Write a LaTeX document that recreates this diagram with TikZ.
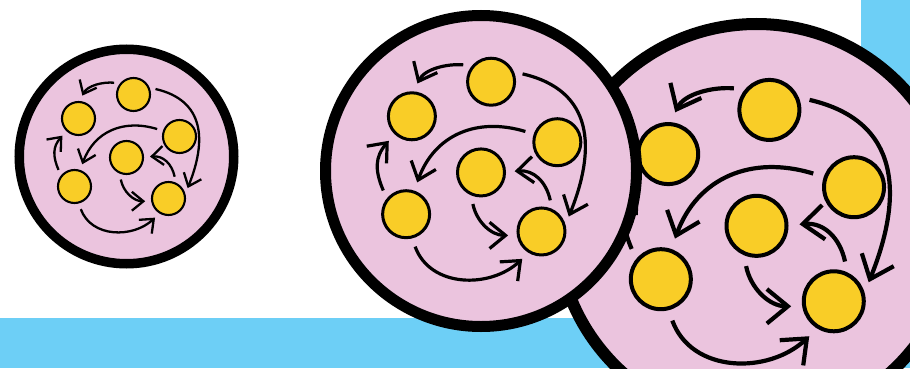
\documentclass[tikz,border=0pt]{standalone}
\usetikzlibrary{arrows.meta}
\definecolor{rose}{HTML}{EBC4DE}
\definecolor{jaune}{HTML}{F9CD27}
\definecolor{bleu}{HTML}{6DCFF6}

\begin{document}
\begin{tikzpicture}[
        x=1pt, y=1pt,
        cell/.style={circle, draw=black, fill=rose, inner sep=0pt},
        ball/.style={circle, draw=black, fill=jaune, inner sep=0pt},
        arr/.style={-{Straight Barb[length=0pt 5, width=0pt 8.2, quick]}}
    ]
    \useasboundingbox (0,0) rectangle (910,368);
    \clip (0,0) rectangle (910,368);

    % Fond
    \fill[bleu] (0,0) rectangle (910,50);
    \fill[bleu] (861,0) rectangle (910,368);

    % Cellule droite
    \begin{scope}[shift={(756.5,144)}, scale=1.84,
            ball/.append style={line width=4pt, minimum size=60pt},
            arr/.append style={line width=4.2pt, shorten <=11pt, shorten >=11pt}]
    \node[cell, line width=12pt, minimum size=400pt] (cellC) at (0,0) {};
    \node[ball] (tC) at (7,62) {};
    \node[ball] (lC) at (-48,38) {};
    \node[ball] (rC) at (53,20) {};
    \node[ball] (cC) at (0,-1) {};
    \node[ball] (blC) at (-52,-30) {};
    \node[ball] (brC) at (42,-42) {};
    \draw[arr] (tC.140) to[out=175, in=64] (lC.86);
    \draw[arr] (tC.23) to[out=-13, in=68, looseness=1.3] (brC.16);
    \draw[arr] (rC.161) to[out=163, in=70, looseness=1.15] (blC.71);
    \draw[arr] (brC.65) to[out=102, in=5, looseness=1.2] (cC.1);
    \draw[arr] (cC.247) to[out=281, in=180, looseness=1.1] (brC.189);
    \draw[arr] (blC.141) to[out=113, in=229, looseness=1.2] (lC.226);
    \draw[arr] (blC.284) to[out=290, in=223, looseness=1.15] (brC.239);
    \end{scope}

    % Cellule milieu
    \begin{scope}[shift={(481,197)}, scale=1.44,
            ball/.append style={line width=3pt, minimum size=47pt},
            arr/.append style={line width=3.2pt, shorten <=8.7pt, shorten >=8.7pt}]
    \node[cell, line width=11pt, minimum size=311pt] (cellB) at (0,0) {};
    \node[ball] (tB) at (7,62) {};
    \node[ball] (lB) at (-48,38) {};
    \node[ball] (rB) at (53,20) {};
    \node[ball] (cB) at (0,-1) {};
    \node[ball] (blB) at (-52,-30) {};
    \node[ball] (brB) at (42,-42) {};
    \draw[arr] (tB.140) to[out=175, in=64] (lB.86);
    \draw[arr] (tB.23) to[out=-13, in=68, looseness=1.3] (brB.16);
    \draw[arr] (rB.161) to[out=163, in=70, looseness=1.15] (blB.71);
    \draw[arr] (brB.65) to[out=102, in=5, looseness=1.2] (cB.1);
    \draw[arr] (cB.247) to[out=281, in=180, looseness=1.1] (brB.189);
    \draw[arr] (blB.141) to[out=113, in=229, looseness=1.2] (lB.226);
    \draw[arr] (blB.284) to[out=290, in=223, looseness=1.15] (brB.239);
    \end{scope}

    % Cellule gauche
    \begin{scope}[shift={(126.5,211.5)}, scale=1,
            ball/.append style={line width=2.1pt, minimum size=33pt},
            arr/.append style={line width=2.3pt, shorten <=6pt, shorten >=6pt}]
    \node[cell, line width=9.5pt, minimum size=214.5pt] (cellA) at (0,0) {};
    \node[ball] (tA) at (7,62) {};
    \node[ball] (lA) at (-48,38) {};
    \node[ball] (rA) at (53,20) {};
    \node[ball] (cA) at (0,-1) {};
    \node[ball] (blA) at (-52,-30) {};
    \node[ball] (brA) at (42,-42) {};
    \draw[arr] (tA.140) to[out=175, in=64] (lA.86);
    \draw[arr] (tA.23) to[out=-13, in=68, looseness=1.3] (brA.16);
    \draw[arr] (rA.161) to[out=163, in=70, looseness=1.15] (blA.71);
    \draw[arr] (brA.65) to[out=102, in=5, looseness=1.2] (cA.1);
    \draw[arr] (cA.247) to[out=281, in=180, looseness=1.1] (brA.189);
    \draw[arr] (blA.141) to[out=113, in=229, looseness=1.2] (lA.226);
    \draw[arr] (blA.284) to[out=290, in=223, looseness=1.15] (brA.239);
    \end{scope}

\end{tikzpicture}
\end{document}
